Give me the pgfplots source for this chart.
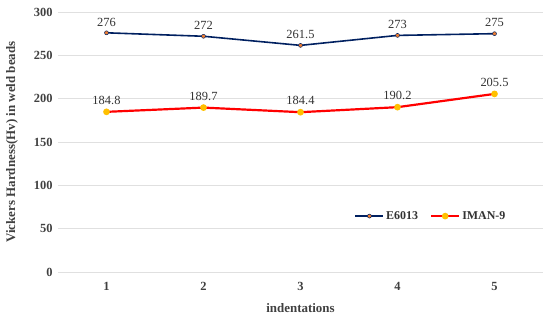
\documentclass[border=0pt]{standalone}
\usepackage{pgfplots}
\pgfplotsset{compat=1.18}
\usepackage{fontspec}
\setmainfont{Liberation Serif}
\definecolor{navy}{HTML}{002060}
\definecolor{mkor}{HTML}{ED7D31}
\definecolor{mkye}{HTML}{FFC000}
\definecolor{gridc}{HTML}{E0E0E0}
\begin{document}
\begin{tikzpicture}[x=1bp,y=1bp]
\useasboundingbox (0,0) rectangle (550,321);
\begin{axis}[
  at={(58bp,49bp)}, anchor=south west,
  scale only axis, width=485bp, height=260bp,
  xmin=0.5, xmax=5.5, ymin=0, ymax=300,
  xtick={1,2,3,4,5}, ytick={0,50,...,300},
  axis line style={draw=none},
  tick style={draw=none},
  ymajorgrids, grid style={gridc, line width=0.8pt},
  tick label style={font=\bfseries\fontsize{12.5}{14}\selectfont, text=black!75},
  yticklabel style={xshift=-2bp},
  xticklabel style={yshift=-7bp},
  /pgf/number format/assume math mode=true,
  ylabel={\bfseries Vickers Hardness(Hv) in weld beads},
  xlabel={\bfseries indentations},
  label style={font=\fontsize{13}{15}\selectfont, text=black!75},
  ylabel style={yshift=9bp},
  xlabel style={yshift=-6bp},
  legend style={at={(0.605,0.215)}, anchor=west, draw=none, fill=none,
    font=\bfseries\fontsize{12}{14}\selectfont, legend columns=2, text=black!80,
    /tikz/every even column/.append style={column sep=10bp}},
  legend image code/.code={\draw[#1] (0bp,0bp) -- (28bp,0bp); \draw[#1, only marks] plot coordinates {(14bp,0bp)};},
  legend cell align=left,
  nodes near coords, every node near coord/.append style={font=\fontsize{12.5}{14}\selectfont, text=black!80, yshift=3bp},
]
\addplot[navy, line width=1.6pt, mark=*, mark size=2pt, mark options={fill=mkor, draw=navy, line width=0.5pt},
  point meta=explicit symbolic]
  coordinates {(1,276)[276] (2,272)[272] (3,261.5)[261.5] (4,273)[273] (5,275)[275]};
\addlegendentry{E6013}
\addplot[red, line width=2.2pt, mark=*, mark size=2.2pt, mark options={fill=mkye, draw=mkye},
  point meta=explicit symbolic]
  coordinates {(1,184.8)[184.8] (2,189.7)[189.7] (3,184.4)[184.4] (4,190.2)[190.2] (5,205.5)[205.5]};
\addlegendentry{IMAN-9}
\end{axis}
\end{tikzpicture}
\end{document}
